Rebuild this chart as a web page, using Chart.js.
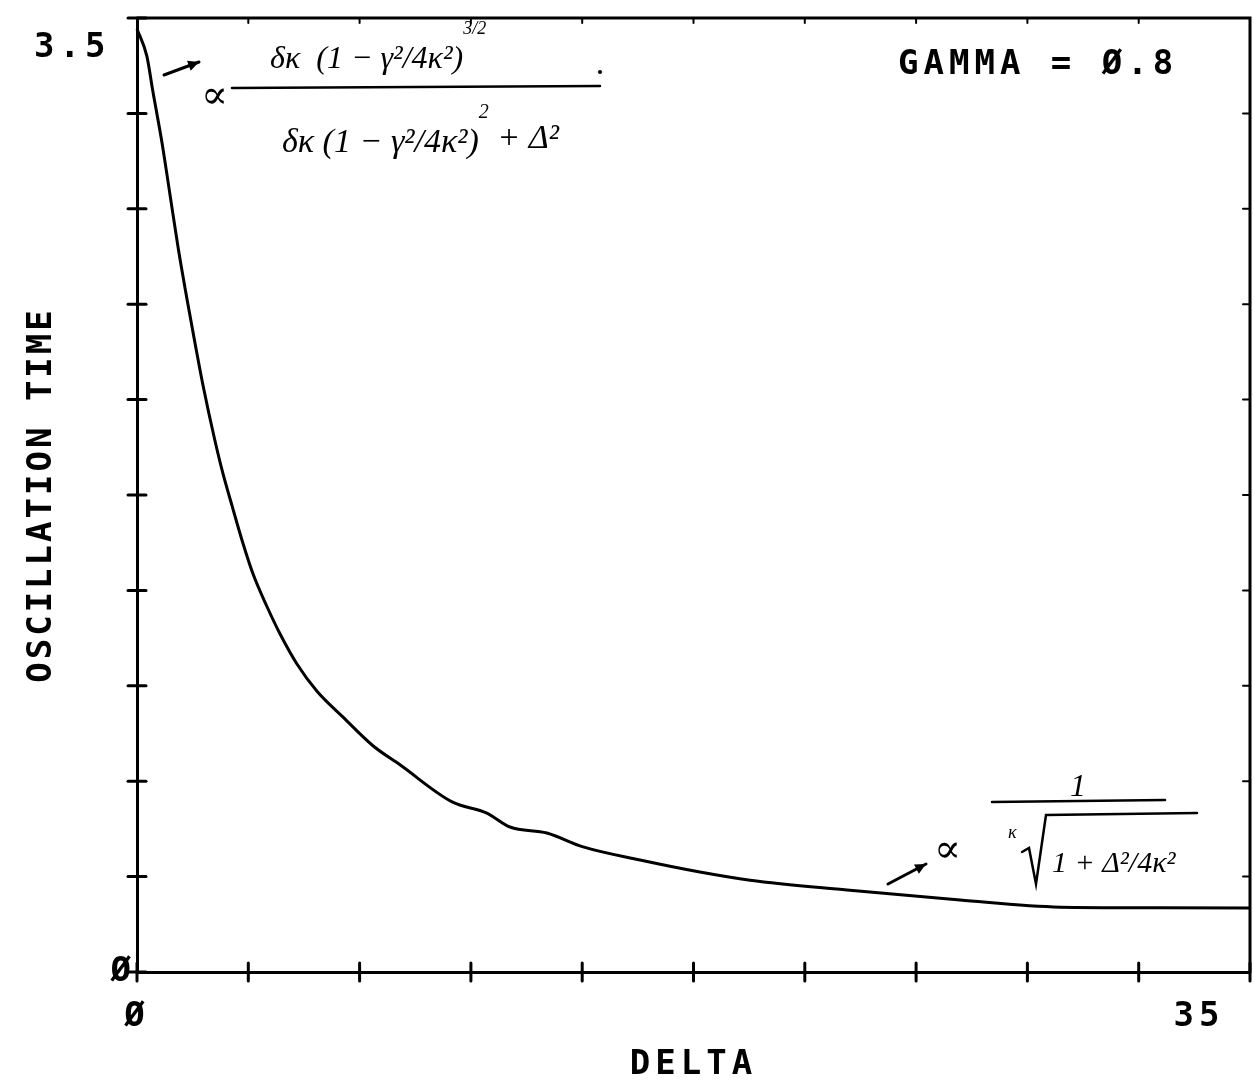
<!DOCTYPE html>
<html>
<head>
<meta charset="utf-8">
<script src="https://cdn.jsdelivr.net/npm/chart.js@4.4.1/dist/chart.umd.min.js"></script>
<style>
html,body{margin:0;padding:0;background:#fff;}
#wrap{width:1254px;height:1090px;}
</style>
</head>
<body>
<div id="wrap"><canvas id="c" width="1254" height="1090"></canvas></div>
<script>
// ---- data ----
const delta   = [0, 0.31, 0.50, 0.79, 1.04, 1.29, 1.57, 1.82, 2.08, 2.45, 2.70, 2.99, 3.30, 3.65, 4.09, 4.50, 5.03, 5.66, 6.48, 7.42, 8.27, 9.91, 11.0, 11.73, 12.89, 14.03, 15.82, 17.70, 19.28, 22.33, 25.88, 29.03, 32.0, 35.0];
const oscTime = [3.46, 3.36, 3.23, 3.04, 2.85, 2.66, 2.47, 2.31, 2.15, 1.95, 1.83, 1.71, 1.585, 1.46, 1.34, 1.24, 1.13, 1.03, 0.935, 0.83, 0.76, 0.624, 0.583, 0.532, 0.51, 0.459, 0.411, 0.367, 0.337, 0.301, 0.264, 0.238, 0.236, 0.235];
const xTickValues = [0, 35];
const xTickText   = ['Ø', '35    '];
const yTickValues = [0, 3.5];
const yTickText   = ['Ø', ['', '3.5 ']];
const xTitle = 'DELTA';
const yTitle = 'OSCILLATION TIME';
const note   = 'GAMMA = Ø.8';

const MONO = '"DejaVu Sans Mono", monospace';
const SERIF = '"Liberation Serif", "DejaVu Serif", serif';

function labelFor(v, vals, texts) {
  for (let i = 0; i < vals.length; i++) if (Math.abs(v - vals[i]) < 1e-6) return texts[i];
  return '';
}

function seg(ctx, x1, y1, x2, y2) { ctx.beginPath(); ctx.moveTo(x1, y1); ctx.lineTo(x2, y2); ctx.stroke(); }
function arrow(ctx, x1, y1, x2, y2) {
  seg(ctx, x1, y1, x2, y2);
  const a = Math.atan2(y2 - y1, x2 - x1), L = 12;
  ctx.beginPath();
  ctx.moveTo(x2, y2);
  ctx.lineTo(x2 - L * Math.cos(a - 0.45), y2 - L * Math.sin(a - 0.45));
  ctx.lineTo(x2 - L * Math.cos(a + 0.45), y2 - L * Math.sin(a + 0.45));
  ctx.closePath(); ctx.fill();
}
function pieces(ctx, x, list) {
  for (const [t, f, b] of list) { ctx.font = f; ctx.fillText(t, x, b); x += ctx.measureText(t).width; }
  return x;
}

const framePlugin = {
  id: 'frame',
  beforeDraw(chart) {
    chart.ctx.letterSpacing = '5px';
    const ys = chart.scales.y;
    if (ys && !ys._wrappedTitle) {
      const orig = ys.drawTitle;
      ys.drawTitle = function () {
        const c = this.ctx, prev = c.letterSpacing;
        c.letterSpacing = '3px'; orig.call(this); c.letterSpacing = prev;
      };
      ys._wrappedTitle = true;
    }
  },
  afterDraw(chart) {
    const { ctx, chartArea: a, scales: { x, y } } = chart;
    ctx.save();
    ctx.letterSpacing = '0px';
    ctx.strokeStyle = '#000'; ctx.fillStyle = '#000';
    ctx.lineCap = 'round';
    ctx.lineWidth = 3;
    ctx.beginPath(); ctx.moveTo(a.left, a.top); ctx.lineTo(a.right, a.top); ctx.lineTo(a.right, a.bottom); ctx.stroke();
    x.ticks.forEach(t => {
      const px = x.getPixelForValue(t.value);
      seg(ctx, px, a.bottom - 9, px, a.bottom + 9);
      ctx.lineWidth = 2; seg(ctx, px, a.top, px, a.top + 5); ctx.lineWidth = 3;
    });
    y.ticks.forEach(t => {
      const py = y.getPixelForValue(t.value);
      seg(ctx, a.left - 9, py, a.left + 9, py);
      ctx.lineWidth = 2; seg(ctx, a.right - 7, py, a.right, py); ctx.lineWidth = 3;
    });

    // GAMMA note
    ctx.letterSpacing = '5px';
    ctx.font = 'bold 34px ' + MONO;
    ctx.textAlign = 'left'; ctx.textBaseline = 'alphabetic';
    ctx.fillText(note, a.right - 352, a.top + 56);
    ctx.letterSpacing = '0px';

    // handwritten formula, upper left
    const ox = a.left, oy = a.top;
    ctx.lineWidth = 3;
    arrow(ctx, ox + 27, oy + 57, ox + 62, oy + 44);
    ctx.font = 'italic 40px ' + SERIF;
    ctx.fillText('∝', ox + 64, oy + 90);
    ctx.lineWidth = 2.5;
    seg(ctx, ox + 95, oy + 70, ox + 463, oy + 68);
    pieces(ctx, ox + 133, [
      ['δκ  (1 − γ²/4κ²)', 'italic 32px ' + SERIF, oy + 50],
      ['3/2', 'italic 18px ' + SERIF, oy + 16]
    ]);
    ctx.beginPath(); ctx.arc(ox + 463, oy + 54, 2, 0, Math.PI * 2); ctx.fill();
    pieces(ctx, ox + 145, [
      ['δκ (1 − γ²/4κ²)', 'italic 34px ' + SERIF, oy + 134],
      ['2', 'italic 20px ' + SERIF, oy + 100],
      [' + Δ²', 'italic 34px ' + SERIF, oy + 130]
    ]);

    // handwritten formula, lower right
    ctx.lineWidth = 3;
    arrow(ctx, 888, 884, 926, 864);
    ctx.font = 'italic 40px ' + SERIF;
    ctx.fillText('∝', 934, 862);
    ctx.font = 'italic 32px ' + SERIF;
    ctx.textAlign = 'center';
    ctx.fillText('1', 1078, 796);
    ctx.textAlign = 'left';
    ctx.lineWidth = 2.5;
    seg(ctx, 992, 802, 1165, 800);
    ctx.font = 'italic 18px ' + SERIF;
    ctx.fillText('κ', 1008, 838);
    ctx.beginPath();
    ctx.moveTo(1022, 852); ctx.lineTo(1029, 848); ctx.lineTo(1036, 884); ctx.lineTo(1046, 815); ctx.lineTo(1197, 813);
    ctx.stroke();
    ctx.font = 'italic 30px ' + SERIF;
    ctx.fillText('1 + Δ²/4κ²', 1052, 872);
    ctx.restore();
  }
};

new Chart(document.getElementById('c'), {
  type: 'line',
  data: {
    datasets: [{
      data: delta.map((d, i) => ({ x: d, y: oscTime[i] })),
      borderColor: '#000',
      borderWidth: 3,
      pointRadius: 0,
      fill: false,
      cubicInterpolationMode: 'monotone',
      clip: false
    }]
  },
  options: {
    responsive: false,
    devicePixelRatio: 1,
    animation: false,
    layout: { autoPadding: false, padding: { top: 18, right: 4, left: 0, bottom: 0 } },
    plugins: { legend: { display: false }, tooltip: { enabled: false } },
    scales: {
      x: {
        type: 'linear', min: 0, max: 35,
        afterFit(s) { s.height = 118; s.paddingLeft = 0; s.paddingRight = 0; },
        ticks: {
          stepSize: 3.5, autoSkip: false, maxRotation: 0, minRotation: 0,
          padding: 25, color: '#000',
          font: { family: MONO, size: 34, weight: 'bold' },
          callback: v => labelFor(v, xTickValues, xTickText)
        },
        grid: { display: true, drawOnChartArea: false, drawTicks: false, color: '#000' },
        border: { display: true, color: '#000', width: 3 },
        title: {
          display: true, text: xTitle, color: '#000',
          font: { family: MONO, size: 34, weight: 'bold' },
          padding: { top: 0, bottom: 4 }
        }
      },
      y: {
        type: 'linear', min: 0, max: 3.5,
        afterFit(s) { s.width = 137; s.paddingTop = 0; s.paddingBottom = 0; },
        ticks: {
          stepSize: 0.35, autoSkip: false, padding: 1, color: '#000',
          font: { family: MONO, size: 34, weight: 'bold', lineHeight: '60px' },
          callback: v => labelFor(v, yTickValues, yTickText)
        },
        grid: { display: true, drawOnChartArea: false, drawTicks: false, color: '#000' },
        border: { display: true, color: '#000', width: 3 },
        title: {
          display: true, text: yTitle, color: '#000',
          font: { family: MONO, size: 34, weight: 'bold' },
          padding: { top: 22, bottom: 0 }
        }
      }
    }
  },
  plugins: [framePlugin]
});
</script>
</body>
</html>
